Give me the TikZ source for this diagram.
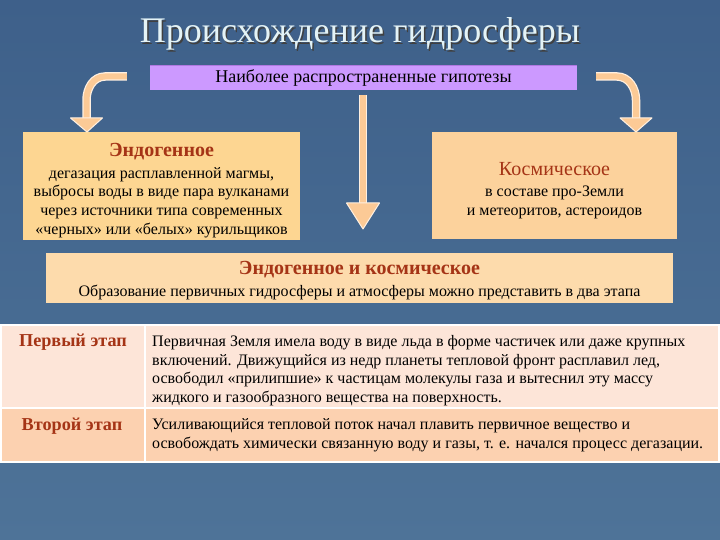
\documentclass[tikz,border=0pt]{standalone}
\usepackage{fontspec}
\setmainfont{Liberation Serif}
\usetikzlibrary{calc}
\definecolor{bgtop}{RGB}{62,96,138}
\definecolor{bgbot}{RGB}{78,115,152}
\definecolor{titlecol}{RGB}{228,243,246}
\definecolor{purp}{RGB}{204,153,255}
\definecolor{purpdark}{RGB}{175,120,225}
\definecolor{arrowcol}{RGB}{252,202,150}
\definecolor{arrowedge}{RGB}{255,240,225}
\definecolor{boxA}{RGB}{253,214,146}
\definecolor{boxB}{RGB}{252,210,156}
\definecolor{boxC}{RGB}{253,219,172}
\definecolor{rowA}{RGB}{253,229,216}
\definecolor{rowB}{RGB}{252,209,176}
\definecolor{headred}{RGB}{165,52,22}
\tikzset{
  bodyfont/.style={font=\fontsize{16}{18.7}\selectfont},
  headfont/.style={font=\fontsize{18.2}{20}\selectfont\bfseries, text=headred},
  shaftedge/.style={draw=arrowedge, line width=8.5pt},
  shaftfill/.style={draw=arrowcol, line width=6pt},
  headtri/.style={fill=arrowcol, draw=arrowedge, line width=1pt, line join=round},
  infobox/.style={inner sep=0pt, align=center, text=black},
}
\newcommand{\hred}[3][\bfseries]{{\fontsize{20}{22}\selectfont#1\color{headred}\rule{0pt}{#2}#3}}
\begin{document}
\begin{tikzpicture}[x=1pt,y=-1pt]
\shade[top color=bgtop, bottom color=bgbot] (0,0) rectangle (720,540);
\useasboundingbox (0,0) rectangle (720,540);
% title
\node[anchor=base, text=black!75, font=\fontsize{36}{40}\selectfont] (titleshadow) at (361.5,44.5) {Происхождение гидросферы};
\node[anchor=base, text=titlecol, font=\fontsize{36}{40}\selectfont] (title) at (360,43) {Происхождение гидросферы};
% hypotheses bar
\node[fill=purp, minimum width=427pt, minimum height=24pt, inner sep=0pt, font=\fontsize{18}{18}\selectfont] (hyp) at (363.5,78) {Наиболее распространенные гипотезы};
\draw[purpdark, line width=1pt] (hyp.north west) -- (hyp.north east);
% boxes
\node[infobox, fill=boxA, minimum width=277pt, minimum height=108pt, bodyfont] (endo) at (161.5,186)
  {\hred{22pt}{Эндогенное}\\[3pt]дегазация расплавленной магмы,\\выбросы воды в виде пара вулканами\\через источники типа современных\\«черных» или «белых» курильщиков};
\node[infobox, fill=boxB, minimum width=245pt, minimum height=107pt, bodyfont] (cosmo) at (554.5,185.5)
  {\hred[]{23pt}{Космическое}\\[2.5pt]в составе про-Земли\\и метеоритов, астероидов};
\node[infobox, fill=boxC, minimum width=627pt, minimum height=50pt, bodyfont] (both) at (359.5,278)
  {\hred{18pt}{Эндогенное и космическое}\\[3pt]Образование первичных гидросферы и атмосферы можно представить в два этапа};
% arrows
\coordinate (lstart) at ($(hyp.west)+(-23,-1.5)$);
\coordinate (lbend) at (105,76.5);
\coordinate (lmid) at (86.5,100);
\coordinate (lneck) at (86.5,118);
\coordinate (ltip) at (87,132);
\coordinate (rstart) at ($(hyp.east)+(19,-1.5)$);
\coordinate (rbend) at (617,76.5);
\coordinate (rmid) at (636,100);
\coordinate (rneck) at (636,118);
\coordinate (rtip) at (636,132);
\coordinate (mstart) at (363,95);
\coordinate (mneck) at (363,203);
\coordinate (mtip) at (363,229);
\draw[shaftedge] (lstart) -- (lbend) to[out=180,in=90] (lmid) -- (lneck);
\draw[shaftfill] (lstart) -- (lbend) to[out=180,in=90] (lmid) -- (lneck);
\filldraw[headtri] ($(lneck)+(-16,0)$) -- ($(lneck)+(16,0)$) -- (ltip) -- cycle;
\draw[shaftedge] (rstart) -- (rbend) to[out=0,in=90] (rmid) -- (rneck);
\draw[shaftfill] (rstart) -- (rbend) to[out=0,in=90] (rmid) -- (rneck);
\filldraw[headtri] ($(rneck)+(-16,0)$) -- ($(rneck)+(16,0)$) -- (rtip) -- cycle;
\draw[shaftedge] (mstart) -- (mneck);
\draw[shaftfill] (mstart) -- (mneck);
\filldraw[headtri] ($(mneck)+(-16.5,0)$) -- ($(mneck)+(16.5,0)$) -- (mtip) -- cycle;
% table
\node[fill=rowA, draw=white, line width=1.5pt, minimum width=718pt, minimum height=83pt, inner sep=0pt] (row1) at (360,366.5) {};
\node[fill=rowB, draw=white, line width=1.5pt, minimum width=718pt, minimum height=54pt, inner sep=0pt] (row2) at (360,435) {};
\coordinate (ctop) at (145,325);
\coordinate (cbot) at (145,462);
\draw[white, line width=1.5pt] (ctop) -- (cbot);
\node[headfont, anchor=base] (stage1) at (73,346) {Первый этап};
\node[headfont, anchor=base] (stage2) at (72,430) {Второй этап};
\node[anchor=north west, inner sep=0pt, align=left, font=\fontsize{16}{18.8}\selectfont] (text1) at (152,335)
  {Первичная Земля имела воду в виде льда в форме частичек или даже крупных\\включений. Движущийся из недр планеты тепловой фронт расплавил лед,\\освободил «прилипшие» к частицам молекулы газа и вытеснил эту массу\\жидкого и газообразного вещества на поверхность.};
\node[anchor=north west, inner sep=0pt, align=left, font=\fontsize{16}{19}\selectfont] (text2) at (152,418)
  {Усиливающийся тепловой поток начал плавить первичное вещество и\\освобождать химически связанную воду и газы, т. е. начался процесс дегазации.};
\end{tikzpicture}
\end{document}
